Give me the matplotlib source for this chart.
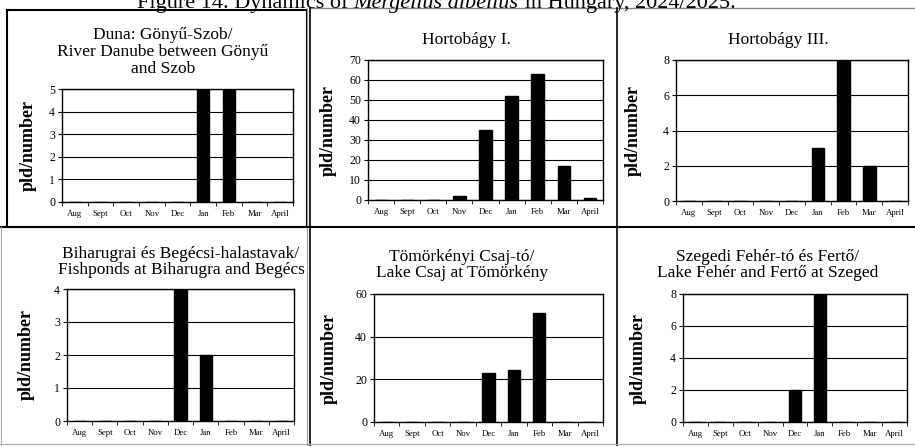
import numpy as np
import matplotlib
matplotlib.use('Agg')
import matplotlib.pyplot as plt
from matplotlib.lines import Line2D

# data
months = ['Aug', 'Sept', 'Oct', 'Nov', 'Dec', 'Jan', 'Feb', 'Mar', 'April']
duna = [0, 0, 0, 0, 0, 5, 5, 0, 0]
horto1 = [0, 0, 0, 2, 35, 52, 63, 17, 1]
horto3 = [0, 0, 0, 0, 0, 3, 8, 2, 0]
bihar = [0, 0, 0, 0, 4, 2, 0, 0, 0]
tomork = [0, 0, 0, 0, 23, 24.5, 51, 0, 0]
szeged = [0, 0, 0, 0, 2, 8, 0, 0, 0]

titles = ['Duna: Gönyű-Szob/\nRiver Danube between Gönyű\nand Szob',
          'Hortobágy I.',
          'Hortobágy III.',
          'Biharugrai és Begécsi-halastavak/\nFishponds at Biharugra and Begécs',
          'Tömörkényi Csaj-tó/\nLake Csaj at Tömörkény',
          'Szegedi Fehér-tó és Fertő/\nLake Fehér and Fertő at Szeged']

plt.rcParams['font.family'] = ['Liberation Serif', 'DejaVu Serif']

W, H = 915, 446
fig = plt.figure(figsize=(W / 100, H / 100), dpi=100)

def px_axes(l, t, r, b):
    return fig.add_axes([l / W, 1 - b / H, (r - l) / W, (b - t) / H])

def fline(xs, ys, **kw):
    fig.add_artist(Line2D([x / W for x in xs], [1 - y / H for y in ys],
                          transform=fig.transFigure, **kw))

# panel settings: (values, axes box, ymax, ystep, ylabel x, title x, title y)
panels = [
    (duna,   (62, 89, 293, 202), 5, 1, 37, 163, 52),
    (horto1, (368, 60, 603, 200), 70, 10, 337, 466, 40),
    (horto3, (676, 60, 908, 201), 8, 2, 642, 778, 40),
    (bihar,  (67, 289, 294, 421), 4, 1, 35, 181, 262),
    (tomork, (374, 294, 603, 422), 60, 20, 338, 462, 265),
    (szeged, (683, 294, 907, 422), 8, 2, 647, 768, 265),
]

x = np.arange(len(months))
for i, (vals, box, ymax, ystep, ylx, tx, ty) in enumerate(panels):
    l, t, r, b = box
    ax = px_axes(l, t, r, b)
    ax.bar(x, vals, width=0.48, color='black', edgecolor='black', zorder=3)
    ax.set_xlim(-0.5, len(months) - 0.5)
    ax.set_ylim(0, ymax)
    ax.set_yticks(np.arange(0, ymax + 0.1, ystep))
    ax.yaxis.grid(True, color='black', linewidth=0.8)
    ax.set_axisbelow(True)
    ax.set_xticks(x)
    ax.set_xticklabels(months, fontsize=6.3)
    ax.set_xticks(np.arange(-0.5, len(months), 1), minor=True)
    ax.tick_params(axis='x', which='major', length=0, pad=6)
    ax.tick_params(axis='x', which='minor', length=3, direction='out')
    ax.tick_params(axis='y', length=3, direction='out', labelsize=8.5, pad=2)
    for s in ax.spines.values():
        s.set_color('black')
        s.set_linewidth(1.0)
    ax.set_ylabel('pld/number', fontsize=13, fontweight='bold')
    ax.yaxis.set_label_coords((ylx - l) / (r - l), 0.5)
    fig.text(tx / W, 1 - ty / H, titles[i], ha='center', va='center',
             fontsize=12.5, linespacing=1.08)

# panel frames
fline([7, 307, 307, 7, 7], [10, 10, 227, 227, 10], color='black', lw=1.5)
fline([310, 915], [8, 8], color='#888888', lw=1)
fline([310, 310], [8, 446], color='black', lw=1.2)
fline([307, 307], [8, 446], color='#999999', lw=0.8)
fline([617, 617], [8, 446], color='black', lw=1.2)
fline([0, 915], [227, 227], color='black', lw=1.5)
fline([1, 1], [227, 446], color='#aaaaaa', lw=0.8)
fline([0, 915], [444, 444], color='#aaaaaa', lw=0.8)

# figure title, partly cut at the top like in the source page
fig.canvas.draw()
renderer = fig.canvas.get_renderer()
parts = [('Figure 14. Dynamics of ', 'normal'), ('Mergellus albellus', 'italic'),
         (' in Hungary, 2024/2025.', 'normal')]
widths = []
for s, st in parts:
    tt = fig.text(0, 0, s, fontsize=16, style=st)
    widths.append(tt.get_window_extent(renderer).width)
    tt.remove()
x0 = 436 - sum(widths) / 2
for (s, st), w in zip(parts, widths):
    fig.text(x0 / W, 1 - 8 / H, s, fontsize=16, style=st, ha='left', va='baseline')
    x0 += w

fig.savefig('out.png', dpi=100)
